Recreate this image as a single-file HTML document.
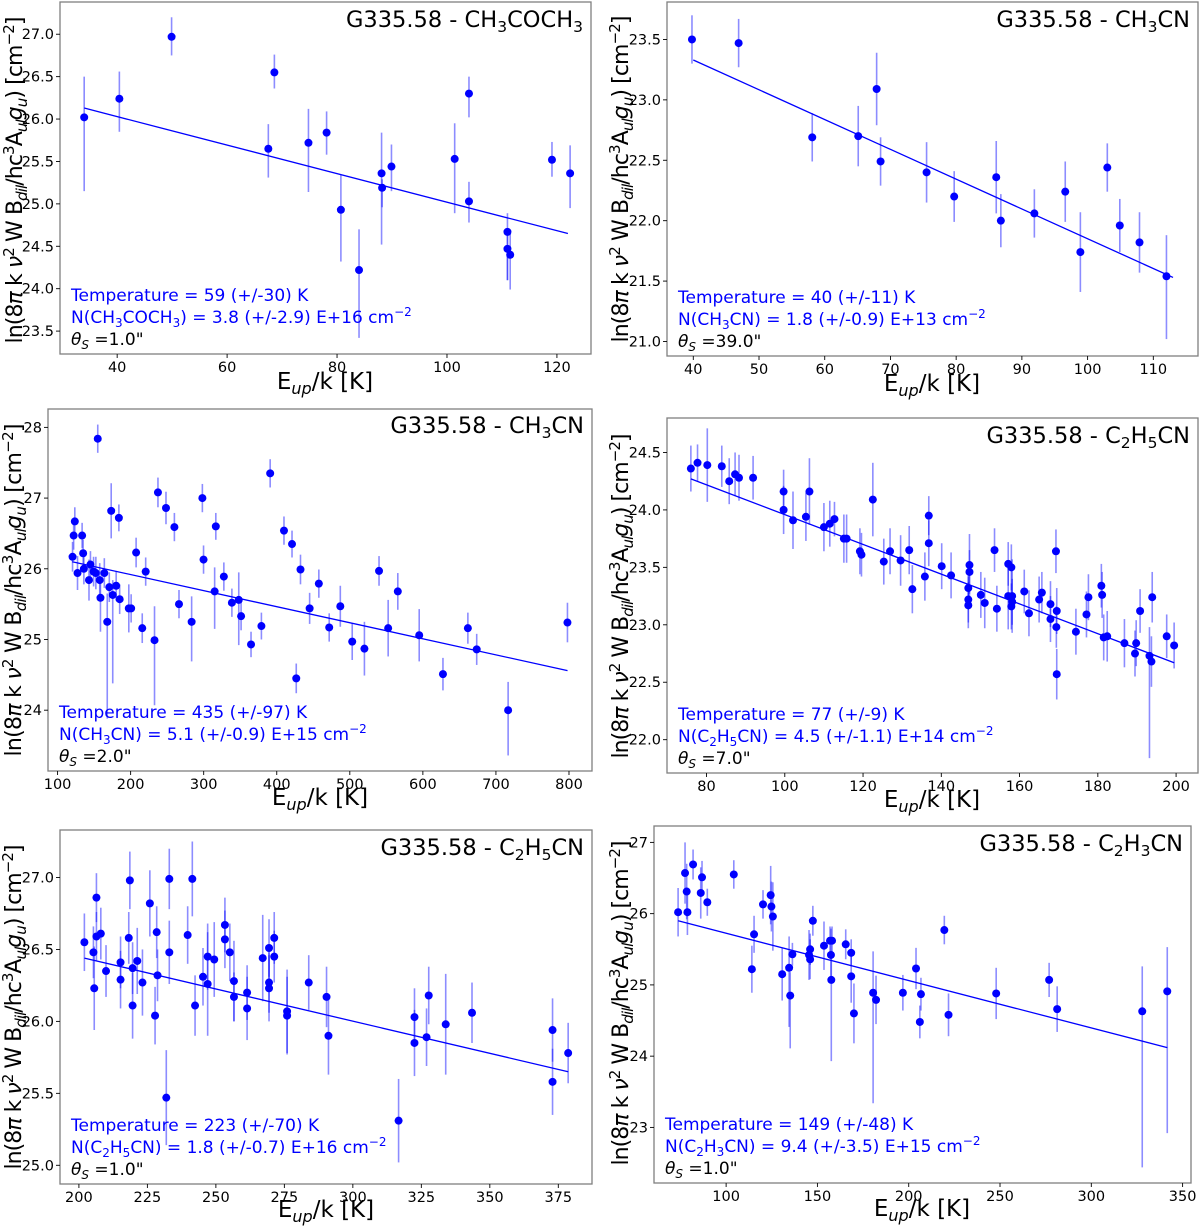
<!DOCTYPE html>
<html>
<head>
<meta charset="utf-8">
<style>
html,body{margin:0;padding:0;background:#fff;}
svg{display:block;font-family:"DejaVu Sans","Liberation Sans",sans-serif;}
.tick{font-size:14.5px;fill:#000;}
.ttl{font-size:22.5px;fill:#000;}
.ann{font-size:17px;fill:#0000ff;}
.annk{font-size:17px;fill:#000;}
.xl{font-size:23px;fill:#000;}
.yl{font-size:22px;fill:#000;}
</style>
</head>
<body>
<svg id="fig" width="1200" height="1226" viewBox="0 0 1200 1226" xmlns="http://www.w3.org/2000/svg">
<g id="marks"></g>

<!-- Panel 1 text -->
<text class="ttl" x="583" y="27" text-anchor="end">G335.58 - CH<tspan font-size="15.5" dy="5">3</tspan><tspan dy="-5">COCH</tspan><tspan font-size="15.5" dy="5">3</tspan></text>
<text class="ann" x="71" y="301">Temperature = 59 (+/-30) K</text>
<text class="ann" x="71" y="323">N(CH<tspan font-size="12" dy="4">3</tspan><tspan dy="-4">COCH</tspan><tspan font-size="12" dy="4">3</tspan><tspan dy="-4">) = 3.8 (+/-2.9) E+16 cm</tspan><tspan font-size="12" dy="-7">−2</tspan></text>
<text class="annk" x="71" y="345"><tspan font-style="italic">θ</tspan><tspan font-size="12" font-style="italic" dy="4">S</tspan><tspan dy="-4"> =1.0"</tspan></text>
<text class="xl" x="325" y="389" text-anchor="middle">E<tspan font-size="16" font-style="italic" dy="5">up</tspan><tspan dy="-5">/k [K]</tspan></text>
<text class="yl" transform="translate(22,180) rotate(-90)" text-anchor="middle" textLength="327">ln(8<tspan font-style="italic">π</tspan> k <tspan font-style="italic">ν</tspan><tspan font-size="15" dy="-8">2</tspan><tspan dy="8"> W B</tspan><tspan font-size="15" font-style="italic" dy="5">dil</tspan><tspan dy="-5">/hc</tspan><tspan font-size="15" dy="-8">3</tspan><tspan dy="8">A</tspan><tspan font-size="15" font-style="italic" dy="5">ul</tspan><tspan font-style="italic" dy="-5">g</tspan><tspan font-size="15" font-style="italic" dy="5">u</tspan><tspan dy="-5">) [cm</tspan><tspan font-size="15" dy="-8">−2</tspan><tspan dy="8">]</tspan></text>

<!-- Panel 2 text -->
<text class="ttl" x="1190" y="27" text-anchor="end">G335.58 - CH<tspan font-size="15.5" dy="5">3</tspan><tspan dy="-5">CN</tspan></text>
<text class="ann" x="678" y="303">Temperature = 40 (+/-11) K</text>
<text class="ann" x="678" y="325">N(CH<tspan font-size="12" dy="4">3</tspan><tspan dy="-4">CN) = 1.8 (+/-0.9) E+13 cm</tspan><tspan font-size="12" dy="-7">−2</tspan></text>
<text class="annk" x="678" y="347"><tspan font-style="italic">θ</tspan><tspan font-size="12" font-style="italic" dy="4">S</tspan><tspan dy="-4"> =39.0"</tspan></text>
<text class="xl" x="932" y="391" text-anchor="middle">E<tspan font-size="16" font-style="italic" dy="5">up</tspan><tspan dy="-5">/k [K]</tspan></text>
<text class="yl" transform="translate(628,179) rotate(-90)" text-anchor="middle" textLength="327">ln(8<tspan font-style="italic">π</tspan> k <tspan font-style="italic">ν</tspan><tspan font-size="15" dy="-8">2</tspan><tspan dy="8"> W B</tspan><tspan font-size="15" font-style="italic" dy="5">dil</tspan><tspan dy="-5">/hc</tspan><tspan font-size="15" dy="-8">3</tspan><tspan dy="8">A</tspan><tspan font-size="15" font-style="italic" dy="5">ul</tspan><tspan font-style="italic" dy="-5">g</tspan><tspan font-size="15" font-style="italic" dy="5">u</tspan><tspan dy="-5">) [cm</tspan><tspan font-size="15" dy="-8">−2</tspan><tspan dy="8">]</tspan></text>

<!-- Panel 3 text -->
<text class="ttl" x="584" y="433" text-anchor="end">G335.58 - CH<tspan font-size="15.5" dy="5">3</tspan><tspan dy="-5">CN</tspan></text>
<text class="ann" x="59" y="718">Temperature = 435 (+/-97) K</text>
<text class="ann" x="59" y="740">N(CH<tspan font-size="12" dy="4">3</tspan><tspan dy="-4">CN) = 5.1 (+/-0.9) E+15 cm</tspan><tspan font-size="12" dy="-7">−2</tspan></text>
<text class="annk" x="59" y="762"><tspan font-style="italic">θ</tspan><tspan font-size="12" font-style="italic" dy="4">S</tspan><tspan dy="-4"> =2.0"</tspan></text>
<text class="xl" x="320" y="805" text-anchor="middle">E<tspan font-size="16" font-style="italic" dy="5">up</tspan><tspan dy="-5">/k [K]</tspan></text>
<text class="yl" transform="translate(21,590) rotate(-90)" text-anchor="middle" textLength="333">ln(8<tspan font-style="italic">π</tspan> k <tspan font-style="italic">ν</tspan><tspan font-size="15" dy="-8">2</tspan><tspan dy="8"> W B</tspan><tspan font-size="15" font-style="italic" dy="5">dil</tspan><tspan dy="-5">/hc</tspan><tspan font-size="15" dy="-8">3</tspan><tspan dy="8">A</tspan><tspan font-size="15" font-style="italic" dy="5">ul</tspan><tspan font-style="italic" dy="-5">g</tspan><tspan font-size="15" font-style="italic" dy="5">u</tspan><tspan dy="-5">) [cm</tspan><tspan font-size="15" dy="-8">−2</tspan><tspan dy="8">]</tspan></text>

<!-- Panel 4 text -->
<text class="ttl" x="1190" y="443" text-anchor="end">G335.58 - C<tspan font-size="15.5" dy="5">2</tspan><tspan dy="-5">H</tspan><tspan font-size="15.5" dy="5">5</tspan><tspan dy="-5">CN</tspan></text>
<text class="ann" x="678" y="720">Temperature = 77 (+/-9) K</text>
<text class="ann" x="678" y="742">N(C<tspan font-size="12" dy="4">2</tspan><tspan dy="-4">H</tspan><tspan font-size="12" dy="4">5</tspan><tspan dy="-4">CN) = 4.5 (+/-1.1) E+14 cm</tspan><tspan font-size="12" dy="-7">−2</tspan></text>
<text class="annk" x="678" y="764"><tspan font-style="italic">θ</tspan><tspan font-size="12" font-style="italic" dy="4">S</tspan><tspan dy="-4"> =7.0"</tspan></text>
<text class="xl" x="932" y="807" text-anchor="middle">E<tspan font-size="16" font-style="italic" dy="5">up</tspan><tspan dy="-5">/k [K]</tspan></text>
<text class="yl" transform="translate(628,596) rotate(-90)" text-anchor="middle" textLength="325">ln(8<tspan font-style="italic">π</tspan> k <tspan font-style="italic">ν</tspan><tspan font-size="15" dy="-8">2</tspan><tspan dy="8"> W B</tspan><tspan font-size="15" font-style="italic" dy="5">dil</tspan><tspan dy="-5">/hc</tspan><tspan font-size="15" dy="-8">3</tspan><tspan dy="8">A</tspan><tspan font-size="15" font-style="italic" dy="5">ul</tspan><tspan font-style="italic" dy="-5">g</tspan><tspan font-size="15" font-style="italic" dy="5">u</tspan><tspan dy="-5">) [cm</tspan><tspan font-size="15" dy="-8">−2</tspan><tspan dy="8">]</tspan></text>

<!-- Panel 5 text -->
<text class="ttl" x="584" y="855" text-anchor="end">G335.58 - C<tspan font-size="15.5" dy="5">2</tspan><tspan dy="-5">H</tspan><tspan font-size="15.5" dy="5">5</tspan><tspan dy="-5">CN</tspan></text>
<text class="ann" x="71" y="1131">Temperature = 223 (+/-70) K</text>
<text class="ann" x="71" y="1153">N(C<tspan font-size="12" dy="4">2</tspan><tspan dy="-4">H</tspan><tspan font-size="12" dy="4">5</tspan><tspan dy="-4">CN) = 1.8 (+/-0.7) E+16 cm</tspan><tspan font-size="12" dy="-7">−2</tspan></text>
<text class="annk" x="71" y="1175"><tspan font-style="italic">θ</tspan><tspan font-size="12" font-style="italic" dy="4">S</tspan><tspan dy="-4"> =1.0"</tspan></text>
<text class="xl" x="326" y="1217" text-anchor="middle">E<tspan font-size="16" font-style="italic" dy="5">up</tspan><tspan dy="-5">/k [K]</tspan></text>
<text class="yl" transform="translate(21,1007) rotate(-90)" text-anchor="middle" textLength="325">ln(8<tspan font-style="italic">π</tspan> k <tspan font-style="italic">ν</tspan><tspan font-size="15" dy="-8">2</tspan><tspan dy="8"> W B</tspan><tspan font-size="15" font-style="italic" dy="5">dil</tspan><tspan dy="-5">/hc</tspan><tspan font-size="15" dy="-8">3</tspan><tspan dy="8">A</tspan><tspan font-size="15" font-style="italic" dy="5">ul</tspan><tspan font-style="italic" dy="-5">g</tspan><tspan font-size="15" font-style="italic" dy="5">u</tspan><tspan dy="-5">) [cm</tspan><tspan font-size="15" dy="-8">−2</tspan><tspan dy="8">]</tspan></text>

<!-- Panel 6 text -->
<text class="ttl" x="1183" y="851" text-anchor="end">G335.58 - C<tspan font-size="15.5" dy="5">2</tspan><tspan dy="-5">H</tspan><tspan font-size="15.5" dy="5">3</tspan><tspan dy="-5">CN</tspan></text>
<text class="ann" x="665" y="1130">Temperature = 149 (+/-48) K</text>
<text class="ann" x="665" y="1152">N(C<tspan font-size="12" dy="4">2</tspan><tspan dy="-4">H</tspan><tspan font-size="12" dy="4">3</tspan><tspan dy="-4">CN) = 9.4 (+/-3.5) E+15 cm</tspan><tspan font-size="12" dy="-7">−2</tspan></text>
<text class="annk" x="665" y="1174"><tspan font-style="italic">θ</tspan><tspan font-size="12" font-style="italic" dy="4">S</tspan><tspan dy="-4"> =1.0"</tspan></text>
<text class="xl" x="922" y="1216" text-anchor="middle">E<tspan font-size="16" font-style="italic" dy="5">up</tspan><tspan dy="-5">/k [K]</tspan></text>
<text class="yl" transform="translate(628,1003) rotate(-90)" text-anchor="middle" textLength="325">ln(8<tspan font-style="italic">π</tspan> k <tspan font-style="italic">ν</tspan><tspan font-size="15" dy="-8">2</tspan><tspan dy="8"> W B</tspan><tspan font-size="15" font-style="italic" dy="5">dil</tspan><tspan dy="-5">/hc</tspan><tspan font-size="15" dy="-8">3</tspan><tspan dy="8">A</tspan><tspan font-size="15" font-style="italic" dy="5">ul</tspan><tspan font-style="italic" dy="-5">g</tspan><tspan font-size="15" font-style="italic" dy="5">u</tspan><tspan dy="-5">) [cm</tspan><tspan font-size="15" dy="-8">−2</tspan><tspan dy="8">]</tspan></text>
</svg>

<script>
// ---------- Panel 1: CH3COCH3 ----------
const p1X = [34.0,40.4,49.9,67.5,68.6,74.8,78.1,80.7,84.0,88.1,88.2,89.9,101.4,104.0,104.0,111.0,111.0,111.5,119.1,122.4];
const p1Y = [26.02,26.24,26.97,25.65,26.55,25.72,25.84,24.93,24.22,25.36,25.19,25.44,25.53,26.30,25.03,24.67,24.47,24.40,25.52,25.36];
const p1ErrHi = [26.50,26.56,27.20,25.94,26.76,26.12,26.09,25.34,24.70,25.84,25.29,25.70,25.95,26.50,25.26,24.89,24.67,24.67,25.73,25.69];
const p1ErrLo = [25.15,25.85,26.75,25.31,26.36,25.14,25.58,24.32,23.42,24.52,24.96,25.15,24.89,26.02,24.78,24.10,24.10,23.99,25.32,24.95];
const p1FitX = [34.0,122.0];
const p1FitY = [26.13,24.65];
const p1XTicks = [40,60,80,100,120];
const p1XTickLabels = ['40','60','80','100','120'];
const p1YTicks = [23.5,24.0,24.5,25.0,25.5,26.0,26.5,27.0];
const p1YTickLabels = ['23.5','24.0','24.5','25.0','25.5','26.0','26.5','27.0'];

// ---------- Panel 2: CH3CN (39") ----------
const p2X = [39.8,46.9,58.1,65.1,67.9,68.5,75.5,79.7,86.1,86.8,91.9,96.6,98.9,103.0,104.9,107.9,112.0];
const p2Y = [23.50,23.47,22.69,22.70,23.09,22.49,22.40,22.20,22.36,22.00,22.06,22.24,21.74,22.44,21.96,21.82,21.54];
const p2ErrUp = [0.20,0.20,0.20,0.25,0.30,0.20,0.25,0.21,0.30,0.22,0.20,0.25,0.33,0.20,0.22,0.25,0.34];
const p2ErrDown = [0.20,0.20,0.20,0.25,0.30,0.20,0.25,0.21,0.30,0.22,0.20,0.25,0.33,0.20,0.22,0.25,0.52];
const p2FitX = [40.0,113.0];
const p2FitY = [23.33,21.53];
const p2XTicks = [40,50,60,70,80,90,100,110];
const p2XTickLabels = ['40','50','60','70','80','90','100','110'];
const p2YTicks = [21.0,21.5,22.0,22.5,23.0,23.5];
const p2YTickLabels = ['21.0','21.5','22.0','22.5','23.0','23.5'];

// ---------- Panel 3: CH3CN (2") ----------
const p3X = [120.5,122,123.6,127.3,133.6,135,136,143,145,149.3,152.4,155,157.7,158.7,164,168,170.8,173.4,175.5,180.2,183.9,185,197.5,200.7,207.5,215.9,220.6,232.7,237.4,248.4,259.9,266.2,283.5,298.2,299.8,315,316.6,327.6,338.6,348,351.2,364.8,379,391,409.9,420.9,426.7,432.5,445,457.6,471.8,487,503.3,520,540,552.5,565.7,595,627.5,661.6,673.7,716.7,797.9];
const p3Y = [26.17,26.47,26.67,25.94,26.47,26.22,26.0,25.84,26.06,25.96,25.94,27.84,25.84,25.59,25.94,25.25,25.74,26.82,25.63,25.76,26.72,25.57,25.44,25.44,26.23,25.16,25.96,24.99,27.08,26.86,26.59,25.5,25.25,27.0,26.13,25.68,26.6,25.89,25.52,25.56,25.33,24.93,25.19,27.35,26.54,26.35,24.45,25.99,25.44,25.79,25.17,25.47,24.97,24.87,25.97,25.16,25.68,25.06,24.51,25.16,24.86,24.0,25.24];
const p3ErrUp = [0.21,0.20,0.20,0.24,0.18,0.19,0.22,0.29,0.19,0.21,0.23,0.20,0.24,0.23,0.21,0.40,0.21,0.39,0.21,0.21,0.19,0.21,0.34,0.20,0.21,0.21,0.20,0.48,0.21,0.23,0.20,0.20,0.36,0.20,0.20,0.34,0.19,0.20,0.20,0.39,0.20,0.18,0.19,0.20,0.20,0.19,0.21,0.21,0.22,0.20,0.20,0.29,0.26,0.38,0.21,0.40,0.26,0.37,0.23,0.22,0.22,0.40,0.28];
const p3ErrDown = [0.21,0.20,0.20,0.24,0.18,0.19,0.22,0.29,0.19,0.21,0.23,0.20,0.24,0.48,0.21,1.37,0.21,0.39,1.25,0.21,0.19,0.21,0.34,0.20,0.21,0.21,0.20,0.92,0.21,0.23,0.20,0.20,0.56,0.20,0.20,0.53,0.19,0.20,0.20,0.64,0.20,0.18,0.19,0.20,0.20,0.19,0.21,0.21,0.22,0.20,0.20,0.29,0.26,0.38,0.21,0.40,0.26,0.37,0.23,0.22,0.22,0.64,0.28];
const p3FitX = [120.0,798.0];
const p3FitY = [26.10,24.56];
const p3XTicks = [100,200,300,400,500,600,700,800];
const p3XTickLabels = ['100','200','300','400','500','600','700','800'];
const p3YTicks = [24,25,26,27,28];
const p3YTickLabels = ['24','25','26','27','28'];

// ---------- Panel 4: C2H5CN (7") ----------
const p4X = [76.0,77.7,80.2,83.9,85.8,87.3,88.3,91.9,99.7,99.7,102.1,105.4,106.3,110.0,111.5,112.7,115.1,115.8,119.2,119.6,122.5,125.3,126.9,129.6,131.8,132.6,135.8,136.8,136.8,140.1,142.5,147.2,147.2,146.9,146.9,146.9,150.1,151.1,154.2,153.6,157.1,157.1,157.9,158.1,157.9,158.1,161.2,162.4,165.0,165.7,167.9,167.9,169.3,169.5,169.4,169.5,174.4,177.1,177.6,180.9,181.1,181.5,182.4,186.8,189.5,189.8,190.8,193.2,193.7,193.9,197.6,199.5];
const p4Y = [24.36,24.41,24.39,24.38,24.25,24.31,24.28,24.28,24.16,24.0,23.91,23.94,24.16,23.85,23.88,23.92,23.75,23.75,23.64,23.61,24.09,23.55,23.64,23.56,23.65,23.31,23.42,23.95,23.71,23.51,23.43,23.52,23.46,23.32,23.22,23.17,23.26,23.19,23.14,23.65,23.53,23.25,23.5,23.25,23.16,23.2,23.29,23.1,23.22,23.28,23.18,23.05,23.64,23.12,22.98,22.57,22.94,23.09,23.24,23.34,23.26,22.89,22.9,22.84,22.75,22.84,23.12,22.73,22.68,23.24,22.9,22.82];
const p4ErrUp = [0.20,0.16,0.32,0.18,0.20,0.19,0.20,0.19,0.19,0.21,0.25,0.21,0.29,0.21,0.20,0.15,0.21,0.21,0.20,0.19,0.32,0.20,0.20,0.22,0.21,0.21,0.21,0.17,0.20,0.20,0.20,0.27,0.19,0.19,0.20,0.20,0.20,0.22,0.20,0.19,0.19,0.29,0.20,0.32,0.20,0.20,0.19,0.20,0.20,0.18,0.20,0.20,0.19,0.20,0.18,0.22,0.20,0.20,0.20,0.19,0.20,0.20,0.22,0.21,0.20,0.20,0.19,0.25,0.22,0.22,0.19,0.20];
const p4ErrDown = [0.20,0.16,0.32,0.18,0.20,0.19,0.20,0.19,0.19,0.21,0.25,0.21,0.29,0.21,0.20,0.15,0.21,0.21,0.20,0.19,0.32,0.20,0.20,0.22,0.21,0.21,0.21,0.17,0.20,0.20,0.20,0.27,0.19,0.19,0.20,0.20,0.20,0.22,0.20,0.19,0.19,0.29,0.20,0.32,0.20,0.20,0.19,0.20,0.20,0.18,0.20,0.20,0.19,0.20,0.18,0.22,0.20,0.20,0.20,0.19,0.20,0.20,0.22,0.21,0.20,0.20,0.19,0.89,0.22,0.22,0.19,0.20];
const p4FitX = [76.0,199.5];
const p4FitY = [24.27,22.67];
const p4XTicks = [80,100,120,140,160,180,200];
const p4XTickLabels = ['80','100','120','140','160','180','200'];
const p4YTicks = [22.0,22.5,23.0,23.5,24.0,24.5];
const p4YTickLabels = ['22.0','22.5','23.0','23.5','24.0','24.5'];

// ---------- Panel 5: C2H5CN (1") ----------
const p5X = [202.0,205.3,205.6,206.4,206.4,208.0,209.9,215.2,215.2,218.2,218.6,219.6,219.6,221.3,223.2,225.9,227.8,228.4,228.7,231.9,233.0,233.0,239.7,241.4,242.4,245.3,247.0,247.0,249.4,253.3,253.3,255.1,256.6,256.6,261.4,261.4,267.1,269.4,269.4,269.4,271.3,271.3,276.0,276.0,283.9,290.4,291.1,316.7,322.5,322.5,326.9,327.7,333.9,343.5,372.9,372.9,378.6];
const p5Y = [26.55,26.48,26.23,26.86,26.59,26.61,26.35,26.41,26.29,26.58,26.98,26.37,26.11,26.42,26.27,26.82,26.04,26.62,26.32,25.47,26.99,26.48,26.6,26.99,26.11,26.31,26.45,26.26,26.43,26.67,26.57,26.48,26.28,26.17,26.2,26.09,26.44,26.51,26.27,26.23,26.58,26.45,26.07,26.04,26.27,26.17,25.9,25.31,26.03,25.85,25.89,26.18,25.98,26.06,25.94,25.58,25.78];
const p5Err = [0.20,0.18,0.29,0.17,0.17,0.18,0.18,0.18,0.20,0.18,0.20,0.18,0.23,0.23,0.23,0.23,0.20,0.18,0.18,0.33,0.21,0.22,0.20,0.26,0.21,0.20,0.23,0.36,0.26,0.19,0.20,0.20,0.28,0.17,0.19,0.22,0.30,0.20,0.21,0.23,0.18,0.18,0.29,0.27,0.19,0.21,0.27,0.29,0.20,0.23,0.20,0.20,0.35,0.21,0.22,0.23,0.21];
const p5FitX = [202.0,378.6];
const p5FitY = [26.44,25.65];
const p5XTicks = [200,225,250,275,300,325,350,375];
const p5XTickLabels = ['200','225','250','275','300','325','350','375'];
const p5YTicks = [25.0,25.5,26.0,26.5,27.0];
const p5YTickLabels = ['25.0','25.5','26.0','26.5','27.0'];

// ---------- Panel 6: C2H3CN ----------
const p6X = [73.7,77.5,78.4,78.8,81.9,86.1,86.8,89.7,104.2,114.1,115.3,120.2,124.4,124.8,125.6,130.7,134.5,135.1,136.3,145.4,146.0,146.0,147.5,153.6,156.9,157.4,158.0,157.6,165.5,168.5,168.5,170.0,180.5,182.1,196.8,204.0,206.1,206.7,219.5,221.8,247.9,276.9,281.3,327.9,341.6];
const p6Y = [26.02,26.57,26.31,26.02,26.69,26.29,26.51,26.16,26.55,25.22,25.71,26.13,26.26,26.10,25.96,25.15,25.24,24.85,25.43,25.42,25.50,25.36,25.90,25.55,25.62,25.42,25.62,25.07,25.57,25.45,25.12,24.60,24.89,24.79,24.89,25.23,24.48,24.87,25.77,24.58,24.88,25.07,24.66,24.63,24.91];
const p6ErrUp = [0.34,0.43,0.39,0.32,0.21,0.36,0.23,0.19,0.20,0.33,0.26,0.20,0.41,0.35,0.48,0.37,0.44,0.33,0.16,0.35,0.22,0.28,0.21,0.34,0.20,0.37,0.20,0.41,0.21,0.19,0.37,0.42,0.58,0.34,0.25,0.29,0.23,0.23,0.20,0.30,0.36,0.24,0.32,0.63,0.62];
const p6ErrDown = [0.34,0.43,0.39,0.32,0.21,0.36,0.23,0.19,0.20,0.33,0.26,0.20,0.41,0.35,0.48,0.37,0.83,0.74,0.16,0.35,0.22,0.28,0.21,0.34,0.20,0.37,0.20,1.14,0.21,0.19,0.37,0.42,1.55,0.34,0.25,0.29,0.23,0.23,0.20,0.30,0.36,0.24,0.32,2.19,1.99];
const p6FitX = [73.7,341.6];
const p6FitY = [25.90,24.12];
const p6XTicks = [100,150,200,250,300,350];
const p6XTickLabels = ['100','150','200','250','300','350'];
const p6YTicks = [23,24,25,26,27];
const p6YTickLabels = ['23','24','25','26','27'];

const NS = 'http://www.w3.org/2000/svg';
const marks = document.getElementById('marks');

function mk(tag, attrs, parent) {
  const e = document.createElementNS(NS, tag);
  for (const k in attrs) e.setAttribute(k, attrs[k]);
  parent.appendChild(e);
  return e;
}

function drawPanel(id, box, xd, yd, xs, ys, errLo, errHi, fitX, fitY, xt, xtl, yt, ytl) {
  const g = mk('g', {}, marks);
  
  
  const sx = v => box.L + (v - xd[0]) / (xd[1] - xd[0]) * (box.R - box.L);
  const sy = v => box.B - (v - yd[0]) / (yd[1] - yd[0]) * (box.B - box.T);

  const fr = mk('rect', {x: box.L, y: box.T, width: box.R - box.L, height: box.B - box.T, fill: 'none', stroke: '#7f7f7f', 'stroke-width': 1.3}, g);
  
  

  for (let i = 0; i < xt.length; i++) {
    const x = sx(xt[i]);
    const t = mk('line', {x1: x, x2: x, y1: box.B, y2: box.B + 4, stroke: '#000', 'stroke-width': 0.9}, g);
    
    
    const lb = mk('text', {x: x, y: box.B + 18, 'text-anchor': 'middle', class: 'tick'}, g);
    
    
    lb.textContent = xtl[i];
  }
  for (let i = 0; i < yt.length; i++) {
    const y = sy(yt[i]);
    const t = mk('line', {x1: box.L - 4, x2: box.L, y1: y, y2: y, stroke: '#000', 'stroke-width': 0.9}, g);
    
    
    const lb = mk('text', {x: box.L - 6, y: y + 5, 'text-anchor': 'end', class: 'tick'}, g);
    
    
    lb.textContent = ytl[i];
  }
  for (let i = 0; i < xs.length; i++) {
    const x = sx(xs[i]);
    const eb = mk('line', {x1: x, x2: x, y1: sy(errHi(i)), y2: sy(errLo(i)), stroke: '#0000ff', 'stroke-opacity': 0.45, 'stroke-width': 1.6}, g);
    
    
  }
  const fl = mk('line', {x1: sx(fitX[0]), y1: sy(fitY[0]), x2: sx(fitX[1]), y2: sy(fitY[1]), stroke: '#0000ff', 'stroke-width': 1.3}, g);
  
  
  for (let i = 0; i < xs.length; i++) {
    const c = mk('circle', {cx: sx(xs[i]), cy: sy(ys[i]), r: 4, fill: '#0000ff'}, g);
    
    
  }
}

drawPanel('panel1', {L:60,R:591,T:2,B:354}, [29.6,126.2], [23.23,27.38], p1X, p1Y,
  i => p1ErrLo[i], i => p1ErrHi[i], p1FitX, p1FitY, p1XTicks, p1XTickLabels, p1YTicks, p1YTickLabels);
drawPanel('panel2', {L:667,R:1198,T:2,B:356}, [36.0,116.8], [20.88,23.81], p2X, p2Y,
  i => p2Y[i] - p2ErrDown[i], i => p2Y[i] + p2ErrUp[i], p2FitX, p2FitY, p2XTicks, p2XTickLabels, p2YTicks, p2YTickLabels);
drawPanel('panel3', {L:48,R:592,T:409,B:771}, [86.9,831.5], [23.14,28.26], p3X, p3Y,
  i => p3Y[i] - p3ErrDown[i], i => p3Y[i] + p3ErrUp[i], p3FitX, p3FitY, p3XTicks, p3XTickLabels, p3YTicks, p3YTickLabels);
drawPanel('panel4', {L:667,R:1198,T:418,B:773}, [69.9,205.6], [21.71,24.80], p4X, p4Y,
  i => p4Y[i] - p4ErrDown[i], i => p4Y[i] + p4ErrUp[i], p4FitX, p4FitY, p4XTicks, p4XTickLabels, p4YTicks, p4YTickLabels);
drawPanel('panel5', {L:60,R:592,T:830,B:1184}, [193.1,387.3], [24.87,27.33], p5X, p5Y,
  i => p5Y[i] - p5Err[i], i => p5Y[i] + p5Err[i], p5FitX, p5FitY, p5XTicks, p5XTickLabels, p5YTicks, p5YTickLabels);
drawPanel('panel6', {L:654,R:1191,T:826,B:1183}, [60.5,354.6], [22.22,27.23], p6X, p6Y,
  i => p6Y[i] - p6ErrDown[i], i => p6Y[i] + p6ErrUp[i], p6FitX, p6FitY, p6XTicks, p6XTickLabels, p6YTicks, p6YTickLabels);
</script>
</body>
</html>
